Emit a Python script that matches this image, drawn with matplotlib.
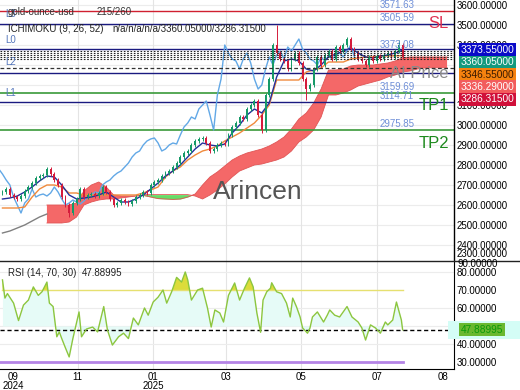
import numpy as np
import matplotlib.pyplot as plt
from matplotlib import transforms
from matplotlib.lines import Line2D

plt.rcParams['font.family'] = ['Liberation Sans', 'DejaVu Sans']

# x axis is counted in days from 2024-08-30
# daily closes, one every 3 days from day 2
closes = [2665, 2680, 2650, 2640, 2630, 2645, 2670, 2690, 2710, 2735,
          2745, 2750, 2780, 2755, 2725, 2700, 2640, 2600, 2560, 2610,
          2630, 2680, 2640, 2650, 2655, 2645, 2660, 2690, 2665, 2630,
          2600, 2610, 2625, 2615, 2605, 2620, 2640, 2650, 2665, 2660,
          2700, 2715, 2725, 2745, 2760, 2770, 2790, 2810, 2840, 2860,
          2870, 2900, 2920, 2930, 2935, 2910, 2870, 2880, 2900, 2910,
          2905, 2950, 2990, 3010, 3040, 3030, 3080, 3100, 3120, 3050,
          2975, 3150, 3230, 3400, 3360, 3330, 3320, 3280, 3330, 3360,
          3310, 3230, 3180, 3200, 3280, 3340, 3300, 3350, 3370, 3330,
          3390, 3370, 3400, 3430, 3380, 3360, 3330, 3320, 3300, 3340,
          3320, 3345, 3330, 3350, 3360, 3340, 3370, 3400, 3340]
first_open = 2660
spike_highs = {74: 3500, 93: 3440, 107: 3425}
spike_lows = {18: 2540, 70: 2960, 82: 3125}

# ichimoku lines, one value every 6 days from day 2
tenkan = [2630, 2635, 2645, 2665, 2690, 2720, 2745, 2740, 2700, 2650,
          2630, 2635, 2640, 2650, 2665, 2640, 2615, 2615, 2630, 2650,
          2680, 2710, 2745, 2770, 2800, 2840, 2880, 2910, 2900, 2895,
          2905, 2960, 3000, 3050, 3080, 3060, 3110, 3240, 3320, 3330,
          3320, 3280, 3270, 3300, 3340, 3355, 3370, 3385, 3360, 3340,
          3335, 3345, 3350, 3360, 3373.55]
kijun = [2585, 2585, 2585, 2590, 2640, 2680, 2700, 2700, 2690, 2660,
         2660, 2650, 2650, 2650, 2650, 2650, 2650, 2650, 2650, 2660,
         2675, 2690, 2740, 2770, 2790, 2825, 2850, 2870, 2880, 2895,
         2920, 2940, 2960, 2985, 3010, 3050, 3100, 3225, 3225, 3225,
         3225, 3265, 3275, 3285, 3315, 3315, 3315, 3330, 3335, 3340,
         3340, 3345, 3345, 3346, 3346.55]
span_pre = [2460, 2470, 2485, 2500, 2520, 2540, 2555]
# cloud starts at the 7th step (day 38)
span_a = [2600, 2600, 2600, 2600, 2610, 2670, 2700, 2715, 2690, 2650,
          2645, 2645, 2645, 2648, 2640, 2632, 2630, 2628, 2630, 2640,
          2655, 2700, 2740, 2765, 2795, 2825, 2845, 2860, 2870, 2880,
          2895, 2915, 2940, 2980, 3030, 3060, 3110, 3180, 3275, 3275,
          3280, 3295, 3300, 3300, 3300, 3305, 3310, 3320, 3336.29, 3340,
          3340, 3340, 3340, 3340, 3340]
span_b = [2510, 2510, 2510, 2515, 2540, 2600, 2615, 2625, 2630, 2630,
          2635, 2640, 2645, 2652, 2652, 2652, 2652, 2652, 2652, 2652,
          2645, 2630, 2650, 2675, 2705, 2740, 2770, 2785, 2800, 2805,
          2815, 2825, 2840, 2870, 2915, 2940, 2975, 3040, 3150, 3150,
          3160, 3175, 3195, 3205, 3215, 3225, 3240, 3250, 3265, 3270,
          3280, 3285, 3286.3, 3286.3, 3286.3]

rsi_day = [2, 4, 6, 11, 15, 19, 23, 27, 31, 34, 38, 40, 43, 46, 48, 50, 53, 56,
           59, 64, 66, 70, 75, 79, 84, 87, 91, 96, 100, 104, 108, 112, 117,
           120, 124, 128, 132, 135, 139, 143, 147, 150, 152, 155, 160, 164,
           168, 171, 174, 178, 181, 185, 190, 194, 198, 202, 205, 208, 211,
           213, 216, 219, 220, 224, 228, 232, 235, 237, 240, 243, 245, 249,
           251, 253, 257, 262, 265, 267, 271, 275, 281, 285, 290, 293, 296,
           300, 304, 308, 312, 314, 318, 321, 325, 326]
rsi = [75.6, 65.5, 68, 62.7, 53, 61.6, 64.4, 71.7, 67, 69, 74.4, 62.7, 60.8,
       44, 46.7, 43, 37.8, 32.8, 43, 57.8, 44, 48.3, 49.4, 46.7, 60.8, 47.8,
       39.4, 44, 46, 43, 54.4, 50.6, 60, 56, 63.3, 66, 70, 62.7, 69, 77,
       74.4, 80, 75.6, 64.4, 70, 71, 60, 49.4, 58.9, 57.2, 52.2, 67, 73.9,
       64.4, 71, 76.7, 71.7, 57.2, 46.5, 64.4, 69, 71, 74, 69, 68, 62.7, 55,
       65.5, 60.8, 55, 48.9, 46, 48.9, 55, 57.8, 52.2, 56, 58.9, 56, 55,
       60.8, 55, 52.2, 48.9, 42.2, 50.6, 48.9, 46, 52.2, 50.6, 53.3, 63.3,
       53.3, 47.88995]

month_days = [63, 124, 183, 244, 305]
tick_days = [10.5, 63, 124, 183, 244, 305, 358.7]
tick_labels = ['09\n2024', '11', '01\n2025', '03', '05', '07', '08']

dotted_levels = [3368, 3358, 3348, 3338, 3328]
navy_levels = [3505.59, 3378, 3262, 3114.71]
green_levels = [3159.69, 2975.85]
red_level = 3571.63
dashed_level = 3285
value_labels = ['3571.63', '3505.59', '3373.08', '3159.69', '3114.71', '2975.85']

price_ticks = [2400, 2500, 2600, 2700, 2800, 2900, 3000, 3100, 3400, 3500, 3600]
box_values = ['3373.55000', '3360.05000', '3346.55000', '3336.29000', '3286.31500']
box_colors = ['#0a0ac8', '#149a7e', '#f5820f', '#f25c5c', '#d0103a']
box_text = ['white', 'white', '#3a1a00', 'white', 'white']

W, H = 520, 390
fig = plt.figure(figsize=(5.2, 3.9), dpi=100)
ax = fig.add_axes([0, 1 - 261 / H, 454 / W, 261 / H])
axr = fig.add_axes([0, 1 - 369 / H, 454 / W, 108 / H])
xmax = 454 / 1.235

# ---- price panel
ax.set_xlim(0, xmax)
ax.set_ylim(2320, 3625)
for v in range(2400, 3700, 100):
    ax.axhline(v, color='#ececec', lw=0.8, zorder=0)
for d in month_days:
    ax.axvline(d, color='#e4e4e4', lw=0.8, zorder=0)
    axr.axvline(d, color='#e4e4e4', lw=0.8, zorder=0)

bar_day = 2 + 3 * np.arange(len(closes))
line_day = 2 + 6 * np.arange(len(tenkan))
cloud_day = 2 + 6 * np.arange(6, 6 + len(span_a))
pre_day = 2 + 6 * np.arange(len(span_pre))

a = np.array(span_a)
b = np.array(span_b)
ax.fill_between(cloud_day, a, b, where=a >= b, interpolate=True, color='#f46868', lw=0, zorder=1)
ax.fill_between(cloud_day, a, b, where=a < b, interpolate=True, color='#66dd66', lw=0, zorder=1)
ax.plot(cloud_day, a, color='#e05555', lw=0.6, zorder=1)
ax.plot(cloud_day, b, color='#e05555', lw=0.6, zorder=1)
ax.plot(pre_day, span_pre, color='#808080', lw=1, zorder=1)

ax.axhline(red_level, color='#d02030', lw=1, zorder=2)
for v in navy_levels:
    ax.axhline(v, color='#1a1a80', lw=1, zorder=2)
for v in green_levels:
    ax.axhline(v, color='#3a9a3a', lw=1.2, zorder=2)

closes_arr = np.array(closes, dtype=float)
opens = np.concatenate([[first_open], closes_arr[:-1]])
highs = np.maximum(opens, closes_arr) + 10
lows = np.minimum(opens, closes_arr) - 10
for i, v in spike_highs.items():
    highs[i] = v
for i, v in spike_lows.items():
    lows[i] = v
up = closes_arr >= opens
cols = np.where(up, '#169a68', '#d41c3c')

ax.plot(bar_day - 39, closes_arr, color='#62a8e6', lw=1, zorder=3)
ax.plot(line_day, kijun, color='#f08a3c', lw=1, zorder=3)
ax.plot(line_day, tenkan, color='#24309a', lw=1, zorder=3)
ax.vlines(bar_day, lows, highs, colors=cols, lw=0.7, zorder=4)
ax.bar(bar_day, closes_arr - opens, bottom=opens, width=1.5, color=cols, zorder=4)

for v in dotted_levels:
    ax.axhline(v, color='#222222', lw=0.8, ls=(0, (1.5, 1.5)), zorder=5)
ax.axhline(dashed_level, color='#333333', lw=0.9, ls=(0, (3, 2)), zorder=5)

yt = ax.get_yaxis_transform()
for lab in value_labels:
    ax.text(380 / 454, float(lab) + 4, lab, transform=yt, fontsize=7,
            color='#6f8fd8', va='bottom', ha='left', zorder=6, clip_on=True)
for lab, v in [('L3', 3555), ('L0', 3425), ('L2', 3315), ('L1', 3160)]:
    ax.text(5 / 454, v, lab, transform=yt, fontsize=7, color='#5577bb',
            va='center', ha='left', zorder=6)

ax.text(449 / 454, 3505, 'SL', transform=yt, fontsize=12, color='#e03050', ha='right', va='center', zorder=6)
ax.text(449 / 454, 3100, 'TP1', transform=yt, fontsize=12, color='#1e8a1e', ha='right', va='center', zorder=6)
ax.text(449 / 454, 2910, 'TP2', transform=yt, fontsize=12, color='#1e8a1e', ha='right', va='center', zorder=6)
ax.text(449 / 454, 3260, 'AI Price', transform=yt, fontsize=12, color='#8a8a8a', ha='right', va='center', zorder=6)
ax.text(213 / 454, 2665, 'Arincen', transform=yt, fontsize=19, color='#555555', ha='left', va='center', zorder=6)

ax.yaxis.tick_right()
ax.set_yticks(price_ticks)
ax.set_yticklabels([f'{v}.00000' for v in price_ticks])
ax.tick_params(axis='y', length=0, pad=2, labelsize=7)
ax.set_xticks([])
for s in ['left', 'top', 'bottom']:
    ax.spines[s].set_visible(False)
ax.spines['right'].set_linewidth(1)

# ---- RSI panel
axr.set_xlim(0, xmax)
axr.set_ylim(26.1, 86.1)
for v in [40, 50, 60, 80]:
    axr.axhline(v, color='#ececec', lw=0.8, zorder=0)
r = np.array(rsi)
axr.fill_between(rsi_day, r, 50, color='#e6fbf7', lw=0, zorder=1)
axr.fill_between(rsi_day, r, 70, where=r > 70, interpolate=True, color='#dcdc3a', lw=0, zorder=2)
axr.plot([rsi_day[0], rsi_day[-1]], [70, 70], color='#e6e070', lw=1, zorder=2)
axr.plot([0, rsi_day[-1]], [30, 30], color='#b484e6', lw=2, zorder=2)
axr.axhline(rsi[-1], color='black', lw=1, ls=(0, (3, 2)), zorder=3)
axr.plot(rsi_day, rsi, color='#8cc63f', lw=1, zorder=4)

axr.yaxis.tick_right()
axr.set_yticks(range(30, 90, 10))
axr.set_yticklabels([f'{v}.00000' for v in range(30, 90, 10)])
axr.tick_params(axis='y', length=0, pad=2, labelsize=7)
axr.set_xticks(tick_days)
axr.set_xticklabels(tick_labels, fontsize=7, linespacing=0.9)
axr.tick_params(axis='x', length=0, pad=2)
for s in ['left', 'top']:
    axr.spines[s].set_visible(False)

# ---- header texts and separators
fig.add_artist(Line2D([0, 1], [1 - 261 / H, 1 - 261 / H], color='#222222', lw=1))
fig.text(8 / W, 1 - 12 / H, 'gold-ounce-usd', fontsize=7, color='#333333', va='center')
fig.text(97 / W, 1 - 12 / H, '215/260', fontsize=7, color='#333333', va='center')
fig.text(8 / W, 1 - 29 / H, 'ICHIMOKU (9, 26, 52)', fontsize=7, color='#222222', va='center')
fig.text(112 / W, 1 - 29 / H, 'n/a/n/a/n/a/3360.05000/3286.31500', fontsize=7, color='#222222', va='center')
fig.text(8 / W, 1 - 273 / H, 'RSI (14, 70, 30)', fontsize=7, color='#222222', va='center')
fig.text(82 / W, 1 - 273 / H, '47.88995', fontsize=7, color='#222222', va='center')
fig.text(457 / W, 1 - 254 / H, '2300.00000', fontsize=7, color='black', va='center')
fig.text(457 / W, 1 - 264 / H, '90.00000', fontsize=7, color='black', va='center')

for k, (val, fc, tc) in enumerate(zip(box_values, box_colors, box_text)):
    fig.text(461 / W, 1 - (50 + 12.3 * k) / H, val, fontsize=7.3, color=tc, va='center',
             bbox=dict(boxstyle='square,pad=0.15', fc=fc, ec='none'))

bt = transforms.blended_transform_factory(fig.transFigure, axr.transData)
fig.patches.append(plt.Rectangle((448 / W, 43), 72 / W, 9.5, transform=bt, fc='#d4fdf6', ec='none'))
fig.text(461 / W, rsi[-1], '47.88995', transform=bt, fontsize=7.3, color='#0a9a0a', va='center',
         bbox=dict(boxstyle='square,pad=0.15', fc='#6ab830', ec='none'))

fig.savefig('out.png', dpi=100)
